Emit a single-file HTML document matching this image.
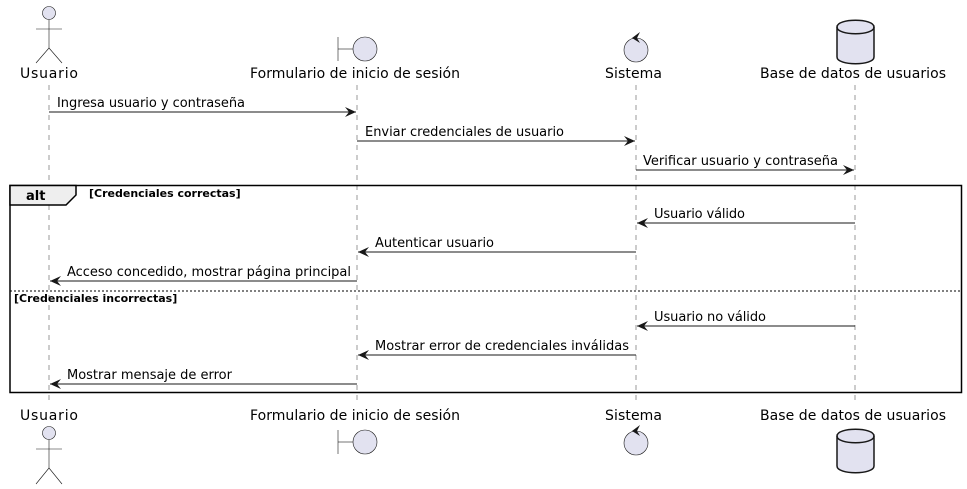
<!DOCTYPE html>
<html><head><meta charset="utf-8"><style>
html,body{margin:0;padding:0;background:#fff;}
svg{display:block;font-family:"DejaVu Sans","Liberation Sans",sans-serif;}
</style></head><body>
<svg width="967" height="489" viewBox="0 0 967 489" xmlns="http://www.w3.org/2000/svg">
<defs>
<marker id="ah" viewBox="0 0 12 10" refX="11" refY="5" markerWidth="12" markerHeight="10" orient="auto-start-reverse" markerUnits="userSpaceOnUse">
<path d="M0,0 L11,5 L0,10 L4,5 Z" fill="#181818"/>
</marker>
</defs>
<g stroke="#555" stroke-width="0.6" stroke-dasharray="5,5">
<line x1="49" y1="85" x2="49" y2="400"/>
<line x1="357" y1="85" x2="357" y2="400"/>
<line x1="636" y1="85" x2="636" y2="400"/>
<line x1="855" y1="85" x2="855" y2="400"/>
</g>
<rect x="10" y="185.5" width="951.5" height="207" fill="none" stroke="#000" stroke-width="1.5"/>
<path d="M10,185.5 H76 V195 L66,205 H10 Z" fill="#eee" stroke="#000" stroke-width="1.5"/>
<text x="26" y="200" font-size="13" font-weight="bold">alt</text>
<text x="89" y="197" font-size="11" font-weight="bold">[Credenciales correctas]</text>
<line x1="10" y1="291" x2="961.5" y2="291" stroke="#000" stroke-width="1" stroke-dasharray="2,2"/>
<text x="14" y="302" font-size="11" font-weight="bold">[Credenciales incorrectas]</text>

<g stroke="#181818" stroke-width="0.6" fill="#E2E2F0">
<circle cx="49" cy="13" r="6.5"/>
<line x1="49" y1="19.5" x2="49" y2="48"/>
<line x1="36" y1="29" x2="62" y2="29"/>
<line x1="49" y1="48" x2="36" y2="63"/>
<line x1="49" y1="48" x2="62" y2="63"/>
<line x1="338" y1="37" x2="338" y2="61"/>
<line x1="338" y1="49" x2="353" y2="49"/>
<circle cx="365" cy="49" r="12"/>
<circle cx="636" cy="50" r="12"/>
</g>
<path d="M640,32 L632,38 L640,43 L637,38 Z" fill="#181818"/>
<g stroke="#181818" stroke-width="1.5" fill="#E2E2F0">
<path d="M837,27 C837,18 874,18 874,27 V57 C874,66 837,66 837,57 Z"/>
<path d="M837,27 C837,36 874,36 874,27" fill="none"/>
</g>
<g font-size="14" fill="#000">
<text x="20" y="78" textLength="58">Usuario</text>
<text x="250" y="78" textLength="210">Formulario de inicio de sesión</text>
<text x="605" y="78" textLength="57">Sistema</text>
<text x="760" y="78" textLength="186">Base de datos de usuarios</text>
</g>

<g font-size="14" fill="#000">
<text x="20" y="420" textLength="58">Usuario</text>
<text x="250" y="420" textLength="210">Formulario de inicio de sesión</text>
<text x="605" y="420" textLength="57">Sistema</text>
<text x="760" y="420" textLength="186">Base de datos de usuarios</text>
</g>
<g stroke="#181818" stroke-width="0.6" fill="#E2E2F0">
<circle cx="49" cy="433" r="6.5"/>
<line x1="49" y1="439.5" x2="49" y2="468"/>
<line x1="36" y1="449" x2="62" y2="449"/>
<line x1="49" y1="468" x2="36" y2="484"/>
<line x1="49" y1="468" x2="62" y2="484"/>
<line x1="338" y1="430" x2="338" y2="454"/>
<line x1="338" y1="442" x2="353" y2="442"/>
<circle cx="365" cy="442" r="12"/>
<circle cx="636" cy="443" r="12"/>
</g>
<path d="M640,425 L632,431 L640,436 L637,431 Z" fill="#181818"/>
<g stroke="#181818" stroke-width="1.5" fill="#E2E2F0">
<path d="M837,436 C837,427 874,427 874,436 V466 C874,475 837,475 837,466 Z"/>
<path d="M837,436 C837,445 874,445 874,436" fill="none"/>
</g>

<g stroke="#181818" stroke-width="1" fill="none">
<line x1="49" y1="112" x2="356" y2="112" marker-end="url(#ah)"/>
<line x1="357" y1="141" x2="635" y2="141" marker-end="url(#ah)"/>
<line x1="636" y1="170" x2="854" y2="170" marker-end="url(#ah)"/>
<line x1="855" y1="223" x2="637" y2="223" marker-end="url(#ah)"/>
<line x1="636" y1="252" x2="358" y2="252" marker-end="url(#ah)"/>
<line x1="357" y1="281" x2="50" y2="281" marker-end="url(#ah)"/>
<line x1="855" y1="326" x2="637" y2="326" marker-end="url(#ah)"/>
<line x1="636" y1="355" x2="358" y2="355" marker-end="url(#ah)"/>
<line x1="357" y1="384" x2="50" y2="384" marker-end="url(#ah)"/>
</g>
<g font-size="13" fill="#000">
<text x="57" y="107" textLength="188">Ingresa usuario y contraseña</text>
<text x="365" y="136" textLength="199">Enviar credenciales de usuario</text>
<text x="643" y="165" textLength="195">Verificar usuario y contraseña</text>
<text x="654" y="218" textLength="91">Usuario válido</text>
<text x="375" y="247" textLength="119">Autenticar usuario</text>
<text x="67" y="276" textLength="284">Acceso concedido, mostrar página principal</text>
<text x="654" y="321" textLength="112">Usuario no válido</text>
<text x="375" y="350" textLength="254">Mostrar error de credenciales inválidas</text>
<text x="67" y="379" textLength="165">Mostrar mensaje de error</text>
</g>
</svg>
</body></html>
